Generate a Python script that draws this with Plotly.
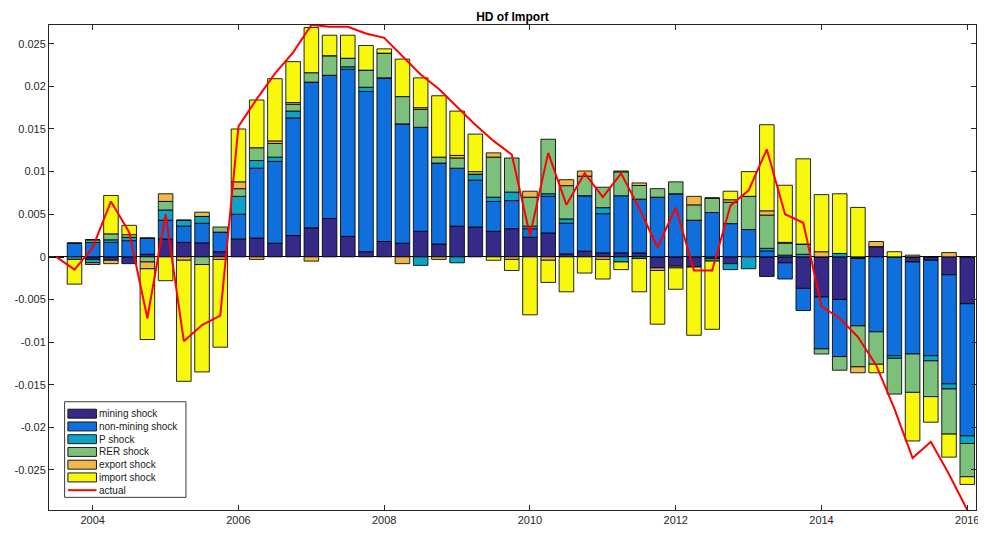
import plotly.graph_objects as go

# quarterly dates 2003Q3 .. 2016Q1 (decimal years)
start_year = 2003.5
n_q = 51
quarters = [start_year + 0.25 * i for i in range(n_q)]

mining = [0, 0, -0.0003, -0.0004, -0.0008, 0.0003, 0.0021, 0.0017, 0.00164, 0.0006,
          0.0021, 0.0022, 0.0016, 0.0025, 0.0034, 0.0045, 0.0024, 0.0006, 0.0018, 0.0016,
          0.0030, 0.0015, 0.0036, 0.0035, 0.0030, 0.0033, 0.0023, 0.0028, 0.00035, 0.00067,
          0.00047, 0.00047, 0.00047, -0.0013, -0.0011, -0.0012, -0.0002, -0.0008, 0, -0.0023,
          -0.0007, -0.0037, -0.0047, -0.0050, -0.0002, 0.0012, 0, -0.0006, -0.0004, -0.0021,
          -0.0055]
non_mining = [0, 0.0016, 0.0017, 0.0017, 0.0019, 0.0019, 0.0022, 0.0019, 0.0023, 0.0023,
              0.0029, 0.0082, 0.0096, 0.0138, 0.0171, 0.0168, 0.0196, 0.0188, 0.0192, 0.0140,
              0.0122, 0.0095, 0.0068, 0.0055, 0.0035, 0.0033, 0.0010, 0.0043, 0.0036, 0.0065,
              0.0046, 0.0067, 0.0063, 0.0070, 0.0074, 0.0043, 0.0052, 0.0039, 0.0032, 0.0007,
              -0.0019, -0.0026, -0.0061, -0.0067, -0.0079, -0.0088, -0.0116, -0.0108, -0.0112, -0.0128,
              -0.0155]
p_shock = [0, -0.0003, -0.0004, 0.0003, 0.0004, 0, 0.0012, 0.0007, 0.0008, 0,
           0.0021, 0.0009, 0.0005, 0.0008, 0, 0, 0.0003, 0.0005, 0, 0,
           -0.0010, 0, -0.0007, 0.0007, 0.0005, 0.0010, 0.0003, 0.0003, 0.0005, 0,
           0.0007, -0.0006, -0.0002, 0, 0, 0, -0.0003, -0.0007, -0.0014, 0.0003,
           0.0002, 0.0003, 0, 0.0004, 0, 0, -0.0003, 0, -0.0006, -0.0006,
           -0.0009]
rer_shock = [0, 0, 0.0003, 0.0007, 0, -0.0006, 0.0010, 0, -0.0009, 0.0006,
             0.0009, 0.0015, 0.0016, 0.0008, 0.0011, 0.0023, 0.0010, 0.0020, 0.0029, 0.0032,
             0.0021, 0.0007, 0.0012, 0, 0.0047, 0.0040, 0.0034, 0.0064, 0.0039, 0.0023,
             0.0024, 0.0028, 0.0016, 0.0010, 0.0014, 0.0018, 0.0017, 0.0025, 0.0039, 0.0039,
             0.0014, 0.0012, -0.0006, -0.0016, -0.0048, -0.0038, -0.0042, -0.0045, -0.0042, -0.0053,
             -0.0039]
export_shock = [0, 0, -0.0002, -0.0004, 0.0003, -0.0008, 0.0009, -0.0004, 0.0005, -0.0003,
                0.0008, -0.0003, 0.0003, 0.0002, -0.0005, 0, 0, 0, 0, -0.0008,
                0.0002, -0.0003, 0.0003, 0.0003, 0.0005, -0.0003, 0.0007, -0.0004, 0.0007, 0.0006,
                -0.0003, 0.0001, 0.0003, -0.0003, -0.0002, 0.0010, 0, 0.0003, 0, 0.0005,
                0.0001, 0, 0.0006, 0, -0.0007, 0.0006, 0, 0.0002, 0, 0.0005,
                0]
import_shock = [0, -0.0029, 0, 0.0045, 0.0011, -0.0083, -0.0028, -0.0142, -0.0126, -0.0103,
                0.0062, 0.0056, 0.0073, 0.0048, 0.0053, 0.0024, 0.0027, 0.0029, 0.0005, 0.0044,
                0.0035, 0.0072, 0.0052, 0.0044, -0.0004, -0.0013, -0.0068, -0.0026, -0.0041, -0.0019,
                -0.0023, -0.0009, -0.0039, -0.0063, -0.0025, -0.0080, -0.0080, 0.0010, 0.0029, 0.0101,
                0.0067, 0.0100, 0.0067, 0.0070, 0.0058, -0.0010, 0.0006, -0.0057, -0.0030, -0.0027,
                -0.0009]
actual = [0, -0.0015, 0.0011, 0.0065, 0.0029, -0.0072, 0.0050, -0.0099, -0.0080, -0.0069,
          0.0153, 0.0185, 0.0215, 0.0240, 0.0272, 0.0270, 0.0270, 0.0262, 0.0257, 0.0235,
          0.0214, 0.0197, 0.0176, 0.0155, 0.0136, 0.0120, 0.0025, 0.0122, 0.0061, 0.0098,
          0.0070, 0.0098, 0.0057, 0.0011, 0.0058, -0.0016, -0.0016, 0.0060, 0.0078, 0.0126,
          0.0050, 0.0040, -0.0058, -0.0072, -0.0094, -0.0127, -0.0178, -0.0236, -0.0217, -0.0255,
          -0.0297]

series_names = ["mining shock", "non-mining shock", "P shock", "RER shock", "export shock", "import shock"]
series_values = [mining, non_mining, p_shock, rer_shock, export_shock, import_shock]
series_colors = ["#352A87", "#0F6FDC", "#0CA4C6", "#7CC07C", "#F0B84A", "#F8F80E"]
actual_name = "actual"
actual_color = "#FF0000"

x_ticks = [2004, 2006, 2008, 2010, 2012, 2014, 2016]
y_ticks = [-0.025, -0.02, -0.015, -0.01, -0.005, 0, 0.005, 0.01, 0.015, 0.02, 0.025]
y_tick_text = ["-0.025", "-0.02", "-0.015", "-0.01", "-0.005", "0", "0.005", "0.01", "0.015", "0.02", "0.025"]

fig = go.Figure()
for name, vals, col in zip(series_names, series_values, series_colors):
    fig.add_trace(go.Bar(
        x=quarters, y=vals, name=name,
        marker=dict(color=col, line=dict(color="rgba(0,0,0,0.85)", width=1)),
    ))
fig.add_trace(go.Scatter(
    x=quarters, y=actual, name=actual_name, mode="lines",
    line=dict(color=actual_color, width=2),
))

# ---- compact MATLAB-style legend drawn in plot-area (paper) coordinates ----
# plot area on screen: x 47..979, y 25..512
PX0, PX1, PY0, PY1 = 47.0, 979.0, 25.0, 512.0
def px(X):
    return (X - PX0) / (PX1 - PX0)
def py(Y):
    return (PY1 - Y) / (PY1 - PY0)

shapes = []
annotations = []
shapes.append(dict(type="rect", xref="paper", yref="paper", layer="above",
                   x0=px(62.7), x1=px(184.7), y0=py(499.3), y1=py(403.3),
                   fillcolor="white", line=dict(color="#3a3a3a", width=1)))
row0, row_step = 415.3, 12.8
legend_names = series_names + [actual_name]
for i, name in enumerate(legend_names):
    Yc = row0 + i * row_step
    if i < len(series_names):
        shapes.append(dict(type="rect", xref="paper", yref="paper", layer="above",
                           x0=px(66), x1=px(94.7), y0=py(Yc + 4.5), y1=py(Yc - 4.5),
                           fillcolor=series_colors[i], line=dict(color="#1a1a1a", width=1)))
    else:
        shapes.append(dict(type="line", xref="paper", yref="paper", layer="above",
                           x0=px(66), x1=px(94.7), y0=py(Yc), y1=py(Yc),
                           line=dict(color=actual_color, width=2)))
    annotations.append(dict(xref="paper", yref="paper", x=px(96.5), y=py(Yc),
                            xanchor="left", yanchor="middle", showarrow=False,
                            text=name, font=dict(size=10, color="#1a1a1a"),
                            borderpad=0))

axis_col = "#262626"
fig.update_layout(
    # the page body has an 8px margin, so the figure is drawn at (8, 8)
    width=978, height=525,
    barmode="relative", bargap=0.2,
    paper_bgcolor="white", plot_bgcolor="white",
    margin=dict(l=39, r=7, t=17, b=21),
    font=dict(family="Liberation Sans, Arial, sans-serif", size=11, color=axis_col),
    title=dict(text="<b>HD of Import</b>", x=0.5, xref="paper", xanchor="center",
               y=0.983, yanchor="middle", yref="container",
               font=dict(size=12, color="black")),
    showlegend=False,
    shapes=shapes,
    annotations=annotations,
)
fig.update_xaxes(
    range=[2003.4, 2016.12], tickvals=x_ticks, ticktext=[str(t) for t in x_ticks],
    ticks="inside", ticklen=5, tickcolor=axis_col, showline=True, linecolor=axis_col,
    linewidth=1, mirror="ticks", showgrid=False, zeroline=False,
)
fig.update_yaxes(
    range=[-0.0297, 0.0272], tickvals=y_ticks, ticktext=y_tick_text,
    ticks="inside", ticklen=5, tickcolor=axis_col, showline=True, linecolor=axis_col,
    linewidth=1, mirror="ticks", showgrid=False, zeroline=True, zerolinecolor="black",
    zerolinewidth=1,
)

fig.write_html("out.html")
